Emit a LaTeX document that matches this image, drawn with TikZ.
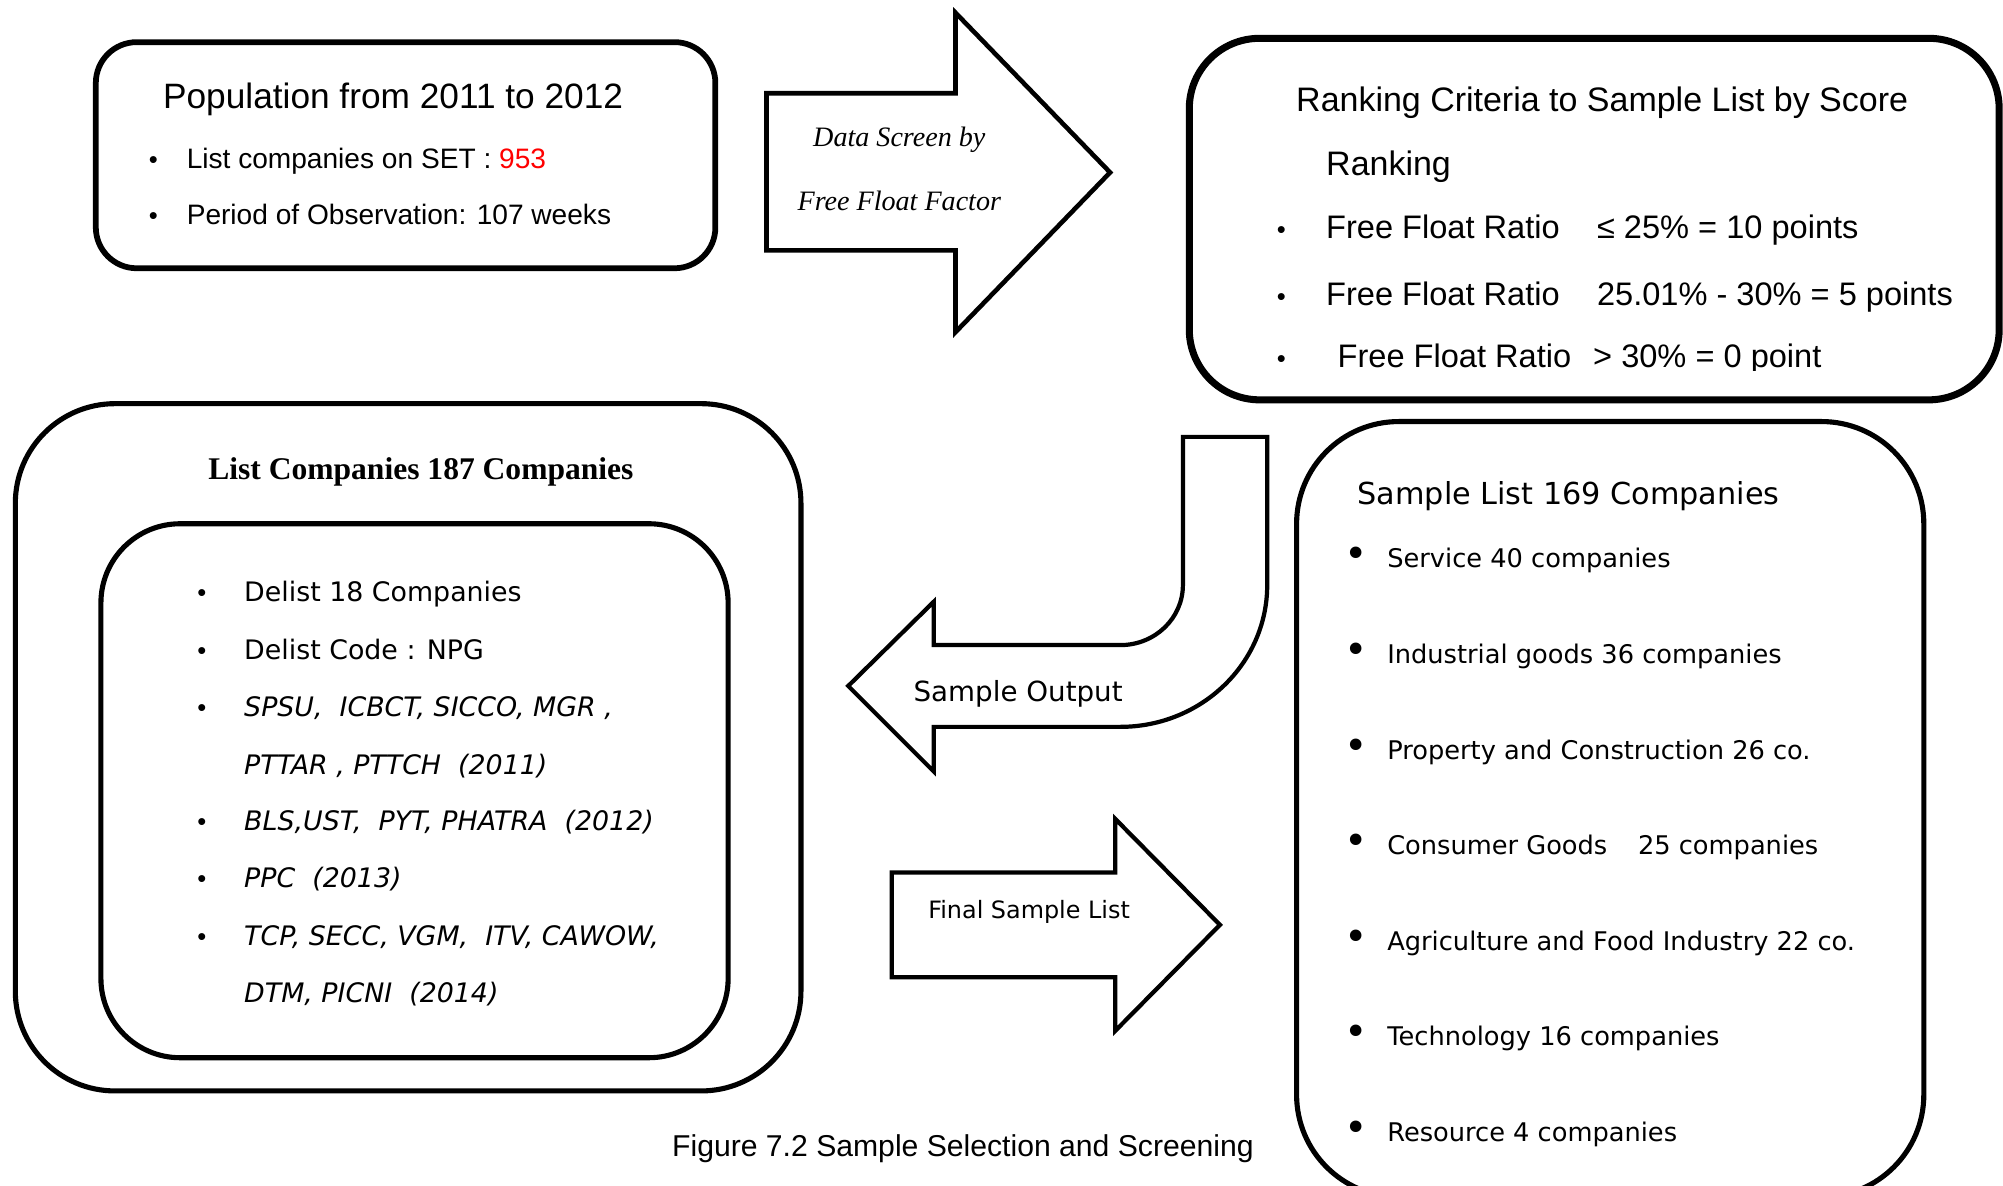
\documentclass[tikz,border=0pt]{standalone}
\usepackage{fontspec}
\setmainfont{Liberation Serif}
\newfontfamily\arialf{Liberation Sans}
\newfontfamily\dvf{DejaVu Sans}
\newfontfamily\timesf{Liberation Serif}
\newcommand{\setfs}[1]{\fontsize{#1pt}{#1pt}\selectfont}
\begin{document}
\begin{tikzpicture}[x=1pt,y=-1pt,
  box/.style={draw=black, line width=4pt, inner sep=0pt},
  blockarrow/.style={draw=black, line width=3.3pt, line join=miter, fill=white},
  txt/.style={anchor=base west, inner sep=0pt},
  ctxt/.style={anchor=base, inner sep=0pt},
  bul/.style={anchor=base, inner sep=0pt, font=\arialf\setfs{20}},
  bigbul/.style={anchor=base, inner sep=0pt, font=\dvf\setfs{31}},
  poptext/.style={txt, font=\arialf\setfs{22}},
  ranktext/.style={txt, font=\arialf\setfs{25.5}},
  deltext/.style={txt, font=\dvf\setfs{21}},
  deltexti/.style={txt, font=\dvf\itshape\setfs{21}},
  samptext/.style={txt, font=\dvf\setfs{20.1}}
]
\fill[white] (0,0) rectangle (1568,928);
\useasboundingbox (0,0) rectangle (1568,928);

% ---------- Population box ----------
\node[box, line width=4.5pt, rounded corners=32pt, minimum width=485pt, minimum height=177pt] (popbox) at (317.5,121.5) {};
\node[txt, font=\arialf\setfs{27.6}] (poptitle) at (127.5,85) {Population from 2011 to 2012};
\node[bul] (popb1) at (120,132) {•};
\node[poptext] (pop1) at (146,132) {List companies on SET : \textcolor{red}{953}};
\node[bul] (popb2) at (120,176) {•};
\node[poptext] (pop2) at (146,176) {Period of Observation: 107 weeks};

% ---------- Data screen arrow ----------
\draw[blockarrow, line width=3.6pt] (600,73) -- (748,73) -- (748,10) -- (869,135) -- (748,260) -- (748,196) -- (600,196) -- cycle;
\node[ctxt, font=\timesf\itshape\setfs{22}] (ds1) at (704,115) {Data Screen by};
\node[ctxt, font=\timesf\itshape\setfs{22}] (ds2) at (704,165) {Free Float Factor};

% ---------- Ranking box ----------
\node[box, line width=5.5pt, rounded corners=55pt, minimum width=634pt, minimum height=283pt] (rankbox) at (1248,171.5) {};
\node[txt, font=\arialf\setfs{26.6}] (ranktitle) at (1014.5,87.5) {Ranking Criteria to Sample List by Score};
\node[txt, font=\arialf\setfs{26.6}] (rankword) at (1038,137) {Ranking};
\node[bul] (rb1) at (1003,187) {•};
\node[ranktext] (r1a) at (1038,187) {Free Float Ratio};
\node[ranktext] (r1b) at (1250,187) {≤ 25\% = 10 points};
\node[bul] (rb2) at (1003,239) {•};
\node[ranktext] (r2a) at (1038,239) {Free Float Ratio};
\node[ranktext] (r2b) at (1250,239) {25.01\% - 30\% = 5 points};
\begin{scope}
  \clip (940,250) rectangle (1560,290);
  \node[bul] (rb3) at (1003,288) {•};
  \node[ranktext] (r3a) at (1047,288) {Free Float Ratio};
  \node[ranktext] (r3b) at (1247,288) {> 30\% = 0 point};
\end{scope}

% ---------- List companies boxes ----------
\node[box, rounded corners=78pt, minimum width=615pt, minimum height=538pt] (outbox) at (319.5,585) {};
\node[ctxt, font=\timesf\bfseries\setfs{24.7}] (outtitle) at (329.5,375) {List Companies 187 Companies};
\node[box, rounded corners=62pt, minimum width=491pt, minimum height=418pt] (inbox) at (324.5,619) {};
\node[bul] (db1) at (158,471) {•};
\node[deltext] (d1) at (191,471) {Delist 18 Companies};
\node[bul] (db2) at (158,516.5) {•};
\node[deltext] (d2) at (191,516.5) {Delist Code : NPG};
\node[bul] (db3) at (158,561) {•};
\node[deltexti] (d3) at (191,561) {SPSU,\ \ ICBCT, SICCO, MGR ,};
\node[deltexti] (d4) at (191,606) {PTTAR , PTTCH\ \ (2011)};
\node[bul] (db5) at (158,650) {•};
\node[deltexti] (d5) at (191,650) {BLS,UST,\ \ PYT, PHATRA\ \ (2012)};
\node[bul] (db6) at (158,695) {•};
\node[deltexti] (d6) at (191,695) {PPC\ \ (2013)};
\node[bul] (db7) at (158,740) {•};
\node[deltexti] (d7) at (191,740) {TCP, SECC, VGM,\ \ ITV, CAWOW,};
\node[deltexti] (d8) at (191,785) {DTM, PICNI\ \ (2014)};

% ---------- Sample Output bent arrow ----------
\draw[blockarrow] (926,342) -- (992,342) -- (992,458)
  .. controls (992,519.3) and (940.5,569) .. (877,569)
  -- (731,569) -- (731,604) -- (664,537) -- (731,471) -- (731,505) -- (877,505)
  .. controls (904.1,505) and (926,484) .. (926,458) -- cycle;
\node[txt, font=\dvf\setfs{21.7}] (sampout) at (715,549.5) {Sample Output};

% ---------- Final Sample List arrow ----------
\draw[blockarrow] (698,683) -- (873,683) -- (873,641) -- (955,724) -- (873,807) -- (873,765) -- (698,765) -- cycle;
\node[txt, font=\dvf\setfs{18.7}] (finallist) at (726.5,719.3) {Final Sample List};

% ---------- Sample List box ----------
\node[box, rounded corners=80pt, minimum width=491pt, minimum height=607pt] (sampbox) at (1260.5,633.5) {};
\node[txt, font=\dvf\setfs{23.7}] (samptitle) at (1062.5,395) {Sample List 169 Companies};
\node[bigbul] (sb1) at (1061.5,444.6) {•};
\node[samptext] (s1) at (1085.8,444.6) {Service 40 companies};
\node[bigbul] (sb2) at (1061.5,519.4) {•};
\node[samptext] (s2) at (1085.8,519.4) {Industrial goods 36 companies};
\node[bigbul] (sb3) at (1061.5,594.2) {•};
\node[samptext] (s3) at (1085.8,594.2) {Property and Construction 26 co.};
\node[bigbul] (sb4) at (1061.5,669) {•};
\node[samptext] (s4) at (1085.8,669) {Consumer Goods\hspace{24pt}25 companies};
\node[bigbul] (sb5) at (1061.5,743.8) {•};
\node[samptext] (s5) at (1085.8,743.8) {Agriculture and Food Industry 22 co.};
\node[bigbul] (sb6) at (1061.5,818.6) {•};
\node[samptext] (s6) at (1085.8,818.6) {Technology 16 companies};
\node[bigbul] (sb7) at (1061.5,893.4) {•};
\node[samptext] (s7) at (1085.8,893.4) {Resource 4 companies};

% ---------- Caption ----------
\node[txt, font=\arialf\setfs{23.6}] (caption) at (526,905) {Figure 7.2 Sample Selection and Screening};
\end{tikzpicture}
\end{document}
